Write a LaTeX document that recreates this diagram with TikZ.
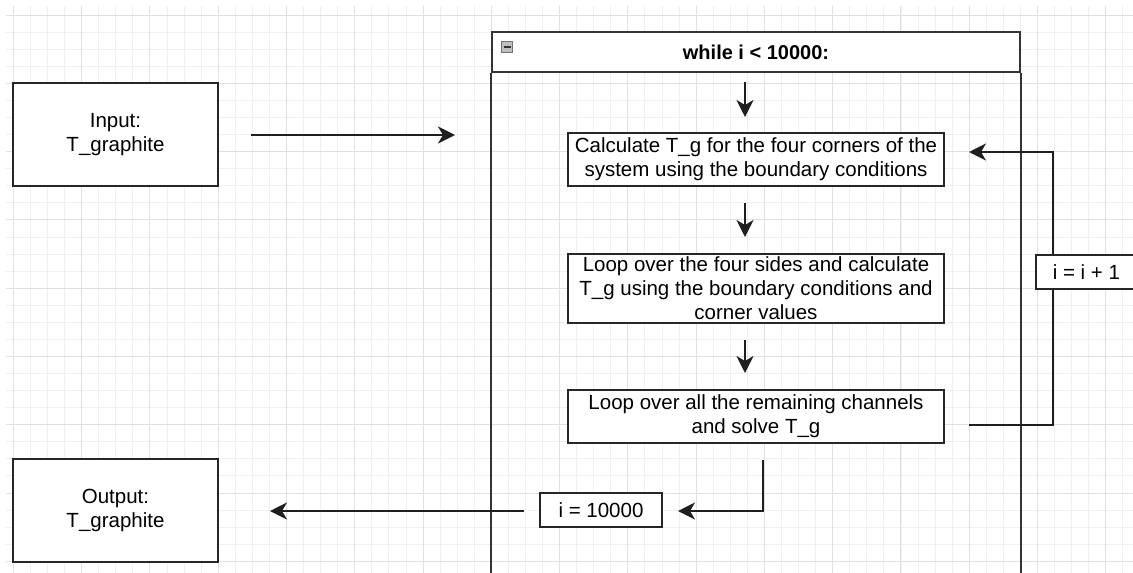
\documentclass[tikz,border=0pt]{standalone}
\usepackage{fontspec}
\setmainfont{Liberation Sans}
\usetikzlibrary{arrows.meta}
\begin{document}
\begin{tikzpicture}[x=1pt,y=-1pt,
  box/.style={draw=black!85,line width=1.6pt,fill=white,align=center,inner sep=0pt,font=\fontsize{20.5}{24}\selectfont},
  arr/.style={draw=black!88,line width=2pt,-{Stealth[length=17pt,width=17pt,inset=5pt]}},
  minorg/.style={draw=black!6,line width=0.8pt},
  majorg/.style={draw=black!12,line width=0.9pt}]
\useasboundingbox (0,0) rectangle (1133,573);
\clip (0,0) rectangle (1133,573);
% grid
\begin{scope}
\clip (6,6) rectangle (1133,573);
\foreach \i in {-1,...,66} \draw[minorg] ({13.3+17.07*\i},0) -- ({13.3+17.07*\i},573);
\foreach \j in {-1,...,33} \draw[minorg] (0,{15+17.07*\j}) -- (1133,{15+17.07*\j});
\foreach \i in {0,...,16} \draw[majorg] ({13.3+68.28*\i},0) -- ({13.3+68.28*\i},573);
\foreach \j in {0,...,8} \draw[majorg] (0,{15+68.28*\j}) -- (1133,{15+68.28*\j});
\end{scope}

% container
\node[draw=black!80,line width=2pt,fill=white,minimum width=528pt,minimum height=40pt,inner sep=0pt,
      font=\fontsize{20}{24}\selectfont\bfseries] (hdr) at (756,52) {while i < 10000:};
\draw[draw=black!80,line width=2pt] (hdr.south west) -- ++(0,520);
\draw[draw=black!80,line width=2pt] (hdr.south east) -- ++(0,520);
\node[draw=black!55,fill=black!25,line width=0.8pt,minimum size=11pt,inner sep=0pt] (icon) at (507,47) {};
\draw[line width=1.6pt,black!80] ([xshift=-3.5pt]icon.center) -- ([xshift=3.5pt]icon.center);

% boxes
\node[box,minimum width=205pt,minimum height=103pt] (in) at (115.5,134.5) {Input:\\T\_graphite};
\node[box,minimum width=205pt,minimum height=103pt] (out) at (115.5,510.5) {Output:\\T\_graphite};
\node[box,minimum width=376pt,minimum height=53pt] (b1) at (756,159.5) {Calculate T\_g for the four corners of the\\system using the boundary conditions};
\node[box,minimum width=376pt,minimum height=69pt] (b2) at (756,288.5) {Loop over the four sides and calculate\\T\_g using the boundary conditions and\\corner values};
\node[box,minimum width=376pt,minimum height=53pt] (b3) at (756,416.5) {Loop over all the remaining channels\\and solve T\_g};

% coordinates
\coordinate (a0s) at (251,135);
\coordinate (a0e) at (455,135);
\coordinate (a1s) at (745,82);
\coordinate (a1e) at (745,117);
\coordinate (a2s) at (745,203);
\coordinate (a2e) at (745,237);
\coordinate (a3s) at (745,340);
\coordinate (a3e) at (745,373);
\coordinate (l1) at (969,425);
\coordinate (l2) at (969,152);
\coordinate (r1) at (1053,425);
\coordinate (r2) at (1053,152);
\coordinate (e1) at (763,460);
\coordinate (e2) at (763,511);
\coordinate (e3) at (678,511);
\coordinate (o1) at (524,511);
\coordinate (o2) at (270,511);

\draw[arr] (a0s) -- (a0e);
\draw[arr] (a1s) -- (a1e);
\draw[arr] (a2s) -- (a2e);
\draw[arr] (a3s) -- (a3e);
\draw[arr] (l1) -- (r1) -- (r2) -- (l2);
\draw[arr] (e1) -- (e2) -- (e3);
\draw[arr] (o1) -- (o2);

% labels
\node[box,anchor=west,minimum height=34pt,inner xsep=17pt] (inc) at (1035,272) {i = i + 1\hspace{12pt}};
\node[box,minimum width=122pt,minimum height=34pt] (done) at (601,510) {i = 10000};
\end{tikzpicture}
\end{document}
